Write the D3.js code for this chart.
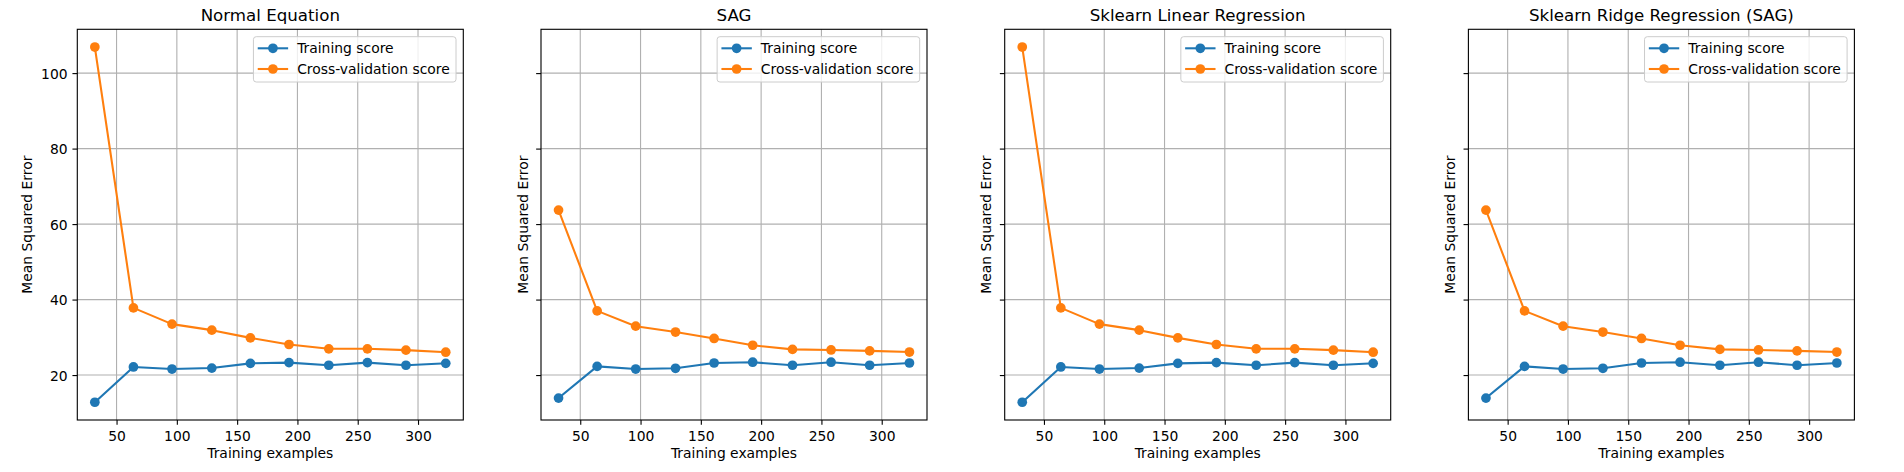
<!DOCTYPE html>
<html>
<head>
<meta charset="utf-8">
<script src="https://cdn.jsdelivr.net/npm/d3@7"></script>
<style>
  html, body { margin: 0; padding: 0; background: #fff; }
  svg { display: block; font-family: "DejaVu Sans", sans-serif; }
</style>
</head>
<body>
<svg id="chart" width="1904" height="472"></svg>
<script>
// ---- data ----
const trainSizes = [32, 64, 96, 129, 161, 193, 226, 258, 290, 323];
const panelTitles = ["Normal Equation", "SAG", "Sklearn Linear Regression", "Sklearn Ridge Regression (SAG)"];
const normalTrain = [12.8, 22.15, 21.6, 21.85, 23.1, 23.3, 22.6, 23.3, 22.6, 23.1];
const normalCV    = [106.9, 37.8, 33.5, 31.9, 29.85, 28.1, 26.95, 26.95, 26.6, 26.05];
const sagTrain    = [13.9, 22.3, 21.6, 21.8, 23.2, 23.4, 22.6, 23.4, 22.6, 23.2];
const sagCV       = [63.7, 37.0, 32.95, 31.4, 29.7, 27.9, 26.8, 26.65, 26.4, 26.1];
const linTrain    = [12.8, 22.15, 21.6, 21.85, 23.1, 23.3, 22.6, 23.3, 22.6, 23.1];
const linCV       = [106.9, 37.8, 33.5, 31.9, 29.85, 28.1, 26.95, 26.95, 26.6, 26.05];
const ridgeTrain  = [13.9, 22.3, 21.6, 21.8, 23.2, 23.4, 22.6, 23.4, 22.6, 23.2];
const ridgeCV     = [63.7, 37.0, 32.95, 31.4, 29.7, 27.9, 26.8, 26.65, 26.4, 26.1];
const xTickValues = [50, 100, 150, 200, 250, 300];
const yTickValues = [20, 40, 60, 80, 100];
const seriesNames = ["Training score", "Cross-validation score"];
const seriesColors = ["#1f77b4", "#ff7f0e"];
const xLabel = "Training examples";
const yLabel = "Mean Squared Error";

const panels = [
  [normalTrain, normalCV],
  [sagTrain, sagCV],
  [linTrain, linCV],
  [ridgeTrain, ridgeCV]
];

// ---- layout ----
const axLeft0 = 77.3, axStep = 463.7, axW = 386, axTop = 29.3, axBottom = 420;
const fs = 13.89, titleFs = 16.67;
const tickLen = 4.86, lw = 2.08, markerR = 4.86, thin = 1.11;

function withMargin(ext) {
  const pad = (ext[1] - ext[0]) * 0.05;
  return [ext[0] - pad, ext[1] + pad];
}
const xDomain = withMargin(d3.extent(trainSizes));
const allY = panels.flat(2);
const yDomain = withMargin(d3.extent(allY));

const svg = d3.select("#chart");

panels.forEach((series, pi) => {
  const left = axLeft0 + pi * axStep;
  const x = d3.scaleLinear().domain(xDomain).range([left, left + axW]);
  const y = d3.scaleLinear().domain(yDomain).range([axBottom, axTop]);
  const g = svg.append("g");

  // grid
  g.append("g").selectAll("line.vx").data(xTickValues).join("line")
    .attr("x1", d => x(d)).attr("x2", d => x(d))
    .attr("y1", axTop).attr("y2", axBottom)
    .attr("stroke", "#b0b0b0").attr("stroke-width", thin);
  g.append("g").selectAll("line.hy").data(yTickValues).join("line")
    .attr("x1", left).attr("x2", left + axW)
    .attr("y1", d => y(d)).attr("y2", d => y(d))
    .attr("stroke", "#b0b0b0").attr("stroke-width", thin);

  // series
  const line = d3.line().x((d, i) => x(trainSizes[i])).y(d => y(d));
  series.forEach((vals, si) => {
    g.append("path").datum(vals)
      .attr("d", line).attr("fill", "none")
      .attr("stroke", seriesColors[si]).attr("stroke-width", lw)
      .attr("stroke-linejoin", "round").attr("stroke-linecap", "square");
    g.append("g").selectAll("circle").data(vals).join("circle")
      .attr("cx", (d, i) => x(trainSizes[i])).attr("cy", d => y(d))
      .attr("r", markerR).attr("fill", seriesColors[si]);
  });

  // axes
  const xa = g.append("g").attr("transform", `translate(0,${axBottom})`)
    .call(d3.axisBottom(x).tickValues(xTickValues).tickSize(tickLen).tickPadding(5.9).tickSizeOuter(0));
  const ya = g.append("g").attr("transform", `translate(${left},0)`)
    .call(d3.axisLeft(y).tickValues(yTickValues).tickSize(tickLen).tickPadding(4.86).tickSizeOuter(0)
      .tickFormat(pi === 0 ? d3.format("d") : () => ""));
  [xa, ya].forEach(a => {
    a.select(".domain").remove();
    a.selectAll("line").attr("stroke", "#000").attr("stroke-width", thin);
    a.selectAll("text").attr("fill", "#000").style("font-size", fs + "px").style("font-family", "DejaVu Sans");
  });
  ya.selectAll("text").attr("dy", "0.36em");

  // frame
  g.append("rect").attr("x", left).attr("y", axTop).attr("width", axW).attr("height", axBottom - axTop)
    .attr("fill", "none").attr("stroke", "#000").attr("stroke-width", thin);

  // title
  g.append("text").attr("x", left + axW / 2).attr("y", 20.7).attr("text-anchor", "middle")
    .style("font-size", titleFs + "px").attr("fill", "#000").text(panelTitles[pi]);

  // axis labels
  g.append("text").attr("x", left + axW / 2).attr("y", 458.4).attr("text-anchor", "middle")
    .style("font-size", fs + "px").attr("fill", "#000").text(xLabel);
  const ylx = pi === 0 ? 31.7 : left - 13.3;
  g.append("text").attr("transform", `translate(${ylx},${(axTop + axBottom) / 2}) rotate(-90)`)
    .attr("text-anchor", "middle").style("font-size", fs + "px").attr("fill", "#000").text(yLabel);

  // legend
  const lg = g.append("g");
  const box = lg.append("rect");
  const texts = seriesNames.map((n, si) => lg.append("text").style("font-size", fs + "px").attr("fill", "#000").text(n));
  const tw = d3.max(texts, t => t.node().getComputedTextLength());
  const bw = 4.5 + 30.4 + 9 + tw + 6;
  const bRight = left + axW - 7.3;
  const bLeft = bRight - bw;
  const bTop = axTop + 7.4, bH = 45.3;
  box.attr("x", bLeft).attr("y", bTop).attr("width", bw).attr("height", bH)
    .attr("rx", 2.8).attr("ry", 2.8)
    .attr("fill", "#fff").attr("fill-opacity", 0.8)
    .attr("stroke", "#cccccc").attr("stroke-width", 1);
  const rowY = [axTop + 19, axTop + 39.7];
  seriesNames.forEach((n, si) => {
    const hx0 = bLeft + 4.3, hx1 = hx0 + 30.4;
    lg.append("line").attr("x1", hx0).attr("x2", hx1).attr("y1", rowY[si]).attr("y2", rowY[si])
      .attr("stroke", seriesColors[si]).attr("stroke-width", lw);
    lg.append("circle").attr("cx", (hx0 + hx1) / 2).attr("cy", rowY[si]).attr("r", markerR).attr("fill", seriesColors[si]);
    texts[si].attr("x", hx1 + 9).attr("y", rowY[si] + 5);
  });
});
</script>
</body>
</html>
